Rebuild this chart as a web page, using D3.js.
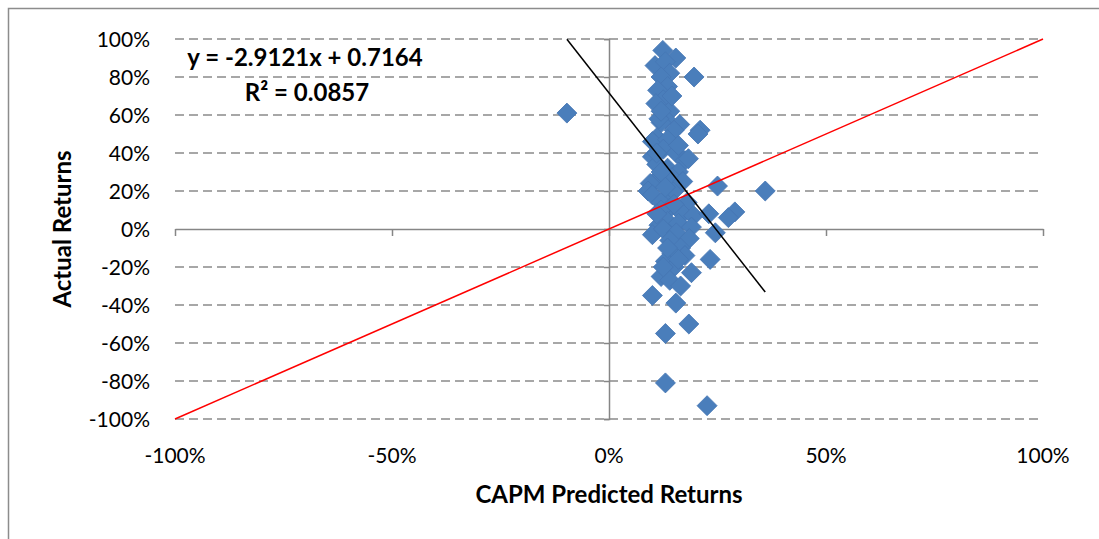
<!DOCTYPE html>
<html>
<head>
<meta charset="utf-8">
<script src="https://cdn.jsdelivr.net/npm/d3@7"></script>
<style>
  body { margin: 0; background: #fff; }
  svg { display: block; }
  text { font-family: Lato, "Open Sans", sans-serif; fill: #000; }
</style>
</head>
<body>
<div id="chart"></div>
<script>
// CAPM predicted vs actual returns (fractions)
var predicted = [
  0.124, 0.154, 0.106, 0.130, 0.140, 0.120, 0.196, 0.135, 0.112, 0.125,
  0.108, 0.140, 0.130, 0.120, 0.163, 0.150, 0.210, 0.205, 0.110, 0.100,
  0.135, 0.125, 0.155, 0.175, 0.183, 0.100, 0.110, 0.135, 0.160, 0.145,
  0.110, 0.095, 0.090, 0.100, 0.135, 0.120, 0.150, 0.180, 0.250, 0.360,
  0.140, 0.120, 0.170, 0.195, 0.230, 0.290, 0.275, 0.135, 0.115, 0.160,
  0.190, 0.245, 0.100, 0.125, 0.155, 0.185, 0.140, 0.165, 0.145, 0.175,
  0.233, 0.130, 0.150, 0.190, 0.120, 0.140, 0.165, 0.100, 0.154, 0.184,
  0.130, 0.130, 0.226, -0.097, 0.115, 0.145, 0.160, 0.120, 0.130, 0.170,
  0.110, 0.150, 0.135, 0.160, 0.125, 0.110, 0.120
]
var actual = [
  0.94, 0.90, 0.86, 0.88, 0.82, 0.80, 0.80, 0.75, 0.73, 0.68,
  0.66, 0.62, 0.58, 0.56, 0.55, 0.52, 0.52, 0.50, 0.48, 0.46,
  0.47, 0.42, 0.40, 0.36, 0.37, 0.38, 0.34, 0.32, 0.30, 0.27,
  0.26, 0.24, 0.20, 0.18, 0.16, 0.14, 0.20, 0.14, 0.226, 0.20,
  0.11, 0.10, 0.08, 0.07, 0.08, 0.09, 0.06, 0.04, 0.02, 0.03,
  0.01, -0.02, -0.03, 0.00, -0.02, -0.05, -0.06, -0.10, -0.13, -0.14,
  -0.16, -0.17, -0.20, -0.23, -0.25, -0.27, -0.30, -0.35, -0.39, -0.50,
  -0.55, -0.81, -0.93, 0.61, 0.58, 0.70, 0.44, 0.30, 0.22, 0.25,
  0.08, 0.13, -0.10, -0.16, -0.20, 0.40, 0.62
]

// linear trendline shown by the chart
var trendSlope = -2.9121
var trendIntercept = 0.7164
var trendLabel = ['y = -2.9121x + 0.7164', 'R² = 0.0857']

var xTicks = [-1, -0.5, 0, 0.5, 1]
var yTicks = [-1, -0.8, -0.6, -0.4, -0.2, 0, 0.2, 0.4, 0.6, 0.8, 1]

var W = 1099, H = 539
var plot = { left: 175, right: 1043, top: 39, bottom: 419 }

var svg = d3.select('#chart').append('svg')
  .attr('width', W)
  .attr('height', H)

// outer chart border
svg.append('rect')
  .attr('x', 8.5).attr('y', 8.5)
  .attr('width', W).attr('height', H)
  .attr('fill', 'none')
  .attr('stroke', '#8c8c8c')
  .attr('stroke-width', 1.5)

var x = d3.scaleLinear().domain([-1, 1]).range([plot.left, plot.right])
var y = d3.scaleLinear().domain([-1, 1]).range([plot.bottom, plot.top])

// plain hyphen for negatives, like the original
var pct = d => d3.format('.0%')(d).replace('\u2212', '-')

// horizontal dashed gridlines
svg.append('g')
  .selectAll('line')
  .data(yTicks.filter(d => d !== 0))
  .join('line')
  .attr('x1', plot.left).attr('x2', plot.right)
  .attr('y1', d => y(d)).attr('y2', d => y(d))
  .attr('stroke', '#8a8a8a')
  .attr('stroke-width', 1.5)
  .attr('stroke-dasharray', '9,5')

// y axis through x = 0
var yAxis = svg.append('g')
  .attr('transform', 'translate(' + x(0) + ',0)')
  .call(d3.axisLeft(y).tickValues(yTicks).tickSize(5).tickFormat(''))
yAxis.select('.domain').attr('stroke', '#868686').attr('stroke-width', 1.5)
yAxis.selectAll('.tick line').attr('stroke', '#868686').attr('stroke-width', 1.5)

// x axis through y = 0
var xAxis = svg.append('g')
  .attr('transform', 'translate(0,' + y(0) + ')')
  .call(d3.axisBottom(x).tickValues(xTicks).tickSize(7).tickSizeOuter(0).tickFormat(''))
xAxis.select('.domain').attr('stroke', '#868686').attr('stroke-width', 1.5)
xAxis.selectAll('.tick line').attr('stroke', '#868686').attr('stroke-width', 1.5)

// tick labels at the plot edges
svg.append('g')
  .selectAll('text')
  .data(yTicks)
  .join('text')
  .attr('x', 150)
  .attr('y', d => y(d) + 7.5)
  .attr('text-anchor', 'end')
  .style('font-size', '21px')
  .text(pct)

svg.append('g')
  .selectAll('text')
  .data(xTicks)
  .join('text')
  .attr('x', d => x(d))
  .attr('y', 463)
  .attr('text-anchor', 'middle')
  .style('font-size', '21px')
  .text(pct)

// axis titles
svg.append('text')
  .attr('x', x(0)).attr('y', 503)
  .attr('text-anchor', 'middle')
  .style('font-size', '24px').style('font-weight', 'bold')
  .text('CAPM Predicted Returns')

svg.append('text')
  .attr('transform', 'translate(71,' + y(0) + ') rotate(-90)')
  .attr('text-anchor', 'middle')
  .style('font-size', '24px').style('font-weight', 'bold')
  .text('Actual Returns')

// scatter points (diamonds)
var points = predicted.map((d, i) => ({ x: d, y: actual[i] }))
var diamond = d3.symbol().type(d3.symbolSquare).size(200)
svg.append('g')
  .selectAll('path')
  .data(points)
  .join('path')
  .attr('d', diamond)
  .attr('transform', d => 'translate(' + x(d.x) + ',' + y(d.y) + ') rotate(45)')
  .attr('fill', '#4a7ebb')
  .attr('stroke', '#4676b3')
  .attr('stroke-width', 0.8)

// y = x reference line
svg.append('line')
  .attr('x1', x(-1)).attr('y1', y(-1))
  .attr('x2', x(1)).attr('y2', y(1))
  .attr('stroke', '#ff0000')
  .attr('stroke-width', 1.5)

// trendline over data range, clipped at the axis max
var xMin = Math.max(d3.min(predicted), (1 - trendIntercept) / trendSlope)
var xMax = d3.max(predicted)
svg.append('line')
  .attr('x1', x(xMin)).attr('y1', y(trendSlope * xMin + trendIntercept))
  .attr('x2', x(xMax)).attr('y2', y(trendSlope * xMax + trendIntercept))
  .attr('stroke', '#000')
  .attr('stroke-width', 1.5)

// trendline equation
svg.append('g')
  .selectAll('text')
  .data(trendLabel)
  .join('text')
  .attr('x', (d, i) => i === 0 ? 305 : 307)
  .attr('y', (d, i) => 66 + i * 35)
  .attr('text-anchor', 'middle')
  .style('font-size', '24px').style('font-weight', 'bold')
  .text(d => d)
</script>
</body>
</html>
